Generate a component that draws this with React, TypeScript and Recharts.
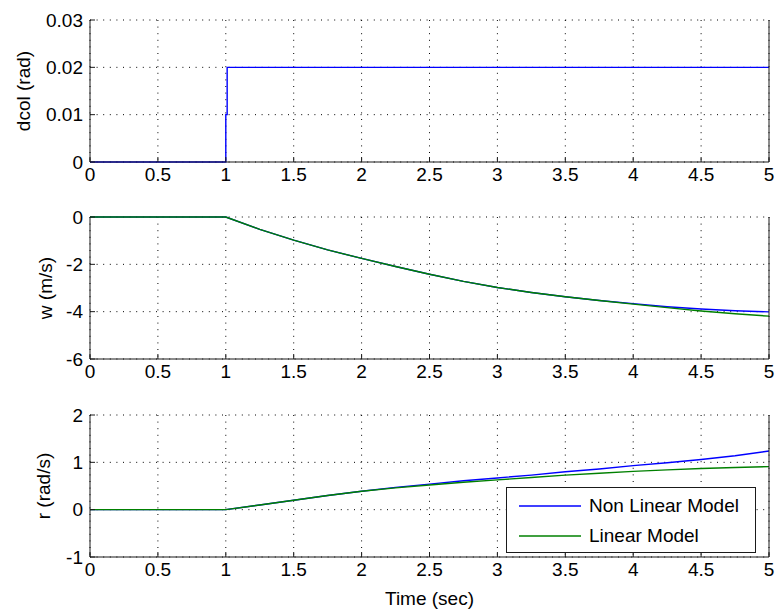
import React from "react";
import {
    LineChart,
    Line,
    XAxis,
    YAxis,
    CartesianGrid,
    Legend,
} from "recharts";

// time base (sec)
const dcolTime = [0, 1, 1, 1.01, 1.01, 5];
const dcolValues = [0, 0, 0.01, 0.01, 0.02, 0.02];

const simTime = [0, 1, 1.25, 1.5, 1.75, 2, 2.25, 2.5, 2.75, 3, 3.25, 3.5, 3.75, 4, 4.25, 4.5, 4.75, 5];

const wNonLinear = [0, 0, -0.52, -0.98, -1.39, -1.75, -2.09, -2.42, -2.72, -2.98, -3.19, -3.37, -3.53, -3.66, -3.79, -3.89, -3.96, -4.01];
const wLinear = [0, 0, -0.52, -0.98, -1.39, -1.75, -2.09, -2.42, -2.72, -2.98, -3.19, -3.37, -3.53, -3.68, -3.83, -3.97, -4.09, -4.19];

const rNonLinear = [0, 0, 0.1, 0.2, 0.3, 0.39, 0.47, 0.54, 0.61, 0.67, 0.73, 0.8, 0.86, 0.93, 0.99, 1.06, 1.14, 1.24];
const rLinear = [0, 0, 0.1, 0.2, 0.3, 0.39, 0.46, 0.52, 0.58, 0.63, 0.68, 0.73, 0.77, 0.81, 0.84, 0.87, 0.89, 0.91];

const timeTicks = [0, 0.5, 1, 1.5, 2, 2.5, 3, 3.5, 4, 4.5, 5];
const dcolTicks = [0, 0.01, 0.02, 0.03];
const wTicks = [-6, -4, -2, 0];
const rTicks = [-1, 0, 1, 2];

const seriesNames = ["Non Linear Model", "Linear Model"];

const FONT = '"Liberation Sans", Arial, sans-serif';
const FS = 19;
const AXIS = "#1a1a1a";
const BLUE = "#0000ff";
const GREEN = "#008000";
const W = 777;

const dcolData = dcolTime.map((t, i) => ({ t, dcol: dcolValues[i] }));
const wData = simTime.map((t, i) => ({ t, nl: wNonLinear[i], lin: wLinear[i] }));
const rData = simTime.map((t, i) => ({ t, nl: rNonLinear[i], lin: rLinear[i] }));

// ticks are drawn inside the box like matlab
const BottomTick = ({ x, y, payload }: any) => (
    <g>
        <line x1={x} y1={y} x2={x} y2={y - 5} stroke={AXIS} />
        <text x={x} y={y + 6} dy="0.71em" textAnchor="middle" fill="#000" fontSize={FS} fontFamily={FONT}>
            {payload.value}
        </text>
    </g>
);
const TopTick = ({ x, y }: any) => <line x1={x} y1={y} x2={x} y2={y + 5} stroke={AXIS} />;
const LeftTick = ({ x, y, payload }: any) => (
    <g>
        <line x1={x} y1={y} x2={x + 5} y2={y} stroke={AXIS} />
        <text x={x - 7} y={y} dy="0.355em" textAnchor="end" fill="#000" fontSize={FS} fontFamily={FONT}>
            {payload.value}
        </text>
    </g>
);
const RightTick = ({ x, y }: any) => <line x1={x} y1={y} x2={x - 5} y2={y} stroke={AXIS} />;

const YLabel = ({ viewBox, text, cx }: any) => {
    const x = viewBox.x + cx;
    const y = viewBox.y + viewBox.height / 2;
    return (
        <text x={x} y={y} transform={`rotate(-90, ${x}, ${y})`} textAnchor="middle" dominantBaseline="central" fill="#000" fontSize={FS} fontFamily={FONT}>
            {text}
        </text>
    );
};
const XLabel = ({ viewBox }: any) => (
    <text x={viewBox.x + viewBox.width / 2} y={viewBox.y + 41} textAnchor="middle" dominantBaseline="central" fill="#000" fontSize={FS} fontFamily={FONT}>
        Time (sec)
    </text>
);

const LegendBox = ({ payload }: any) => {
    // keep plot order, recharts sorts by name
    const items = seriesNames
        .map((n) => (payload || []).find((e: any) => e.value === n))
        .filter(Boolean);
    return (
        <div style={{ width: 250, height: 66, boxSizing: "border-box", border: `1px solid ${AXIS}`, background: "#fff", paddingTop: 3 }}>
            {items.map((e: any) => (
                <div key={e.value} style={{ display: "flex", alignItems: "center", height: 30 }}>
                    <svg width={75} height={4} style={{ display: "block" }}>
                        <line x1={12} y1={2} x2={74} y2={2} stroke={e.color} strokeWidth={1.4} />
                    </svg>
                    <span style={{ fontFamily: FONT, fontSize: FS, color: "#000", marginLeft: 7, lineHeight: "30px" }}>{e.value}</span>
                </div>
            ))}
        </div>
    );
};

function axes(yDomain: number[], yTicks: number[], label: string, labelX: number, bottomHeight: number, xLabel: boolean) {
    return [
        <CartesianGrid key="g" stroke="#000" strokeDasharray="1 5.6" />,
        <XAxis
            key="xb"
            dataKey="t"
            type="number"
            domain={[0, 5]}
            ticks={timeTicks}
            height={bottomHeight}
            tickSize={0}
            tickMargin={0}
            tickLine={false}
            axisLine={{ stroke: AXIS }}
            tick={<BottomTick />}
            interval={0}
            allowDuplicatedCategory={true}
            label={xLabel ? <XLabel /> : undefined}
        />,
        <XAxis
            key="xt"
            xAxisId="top"
            orientation="top"
            dataKey="t"
            type="number"
            domain={[0, 5]}
            ticks={timeTicks}
            height={0}
            tickSize={0}
            tickMargin={0}
            tickLine={false}
            axisLine={{ stroke: AXIS }}
            tick={<TopTick />}
            interval={0}
        />,
        <YAxis
            key="yl"
            type="number"
            domain={yDomain}
            ticks={yTicks}
            width={90}
            tickSize={0}
            tickMargin={0}
            tickLine={false}
            axisLine={{ stroke: AXIS }}
            tick={<LeftTick />}
            interval={0}
            label={<YLabel text={label} cx={labelX} />}
        />,
        <YAxis
            key="yr"
            yAxisId="right"
            orientation="right"
            type="number"
            domain={yDomain}
            ticks={yTicks}
            width={8}
            tickSize={0}
            tickMargin={0}
            tickLine={false}
            axisLine={{ stroke: AXIS }}
            tick={<RightTick />}
            interval={0}
        />,
    ];
}

export default function App() {
    const margin = { top: 20, right: 0, left: 0, bottom: 0 };
    return (
        <div style={{ position: "absolute", left: 0, top: 0, width: W, height: 612, background: "#fff" }}>
            <div style={{ position: "absolute", left: 0, top: 0 }}>
                <LineChart width={W} height={200} data={dcolData} margin={margin}>
                    {axes([0, 0.03], dcolTicks, "dcol (rad)", 23, 38, false)}
                    <Line dataKey="dcol" stroke={BLUE} strokeWidth={1.4} dot={false} type="linear" isAnimationActive={false} />
                </LineChart>
            </div>
            <div style={{ position: "absolute", left: 0, top: 197 }}>
                <LineChart width={W} height={200} data={wData} margin={margin}>
                    {axes([-6, 0], wTicks, "w (m/s)", 45, 38, false)}
                    <Line dataKey="nl" name={seriesNames[0]} stroke={BLUE} strokeWidth={1.4} dot={false} type="linear" isAnimationActive={false} />
                    <Line dataKey="lin" name={seriesNames[1]} stroke={GREEN} strokeWidth={1.4} dot={false} type="linear" isAnimationActive={false} />
                </LineChart>
            </div>
            <div style={{ position: "absolute", left: 0, top: 395 }}>
                <LineChart width={W} height={217} data={rData} margin={margin}>
                    {axes([-1, 2], rTicks, "r (rad/s)", 43, 55, true)}
                    <Line dataKey="nl" name={seriesNames[0]} stroke={BLUE} strokeWidth={1.4} dot={false} type="linear" isAnimationActive={false} />
                    <Line dataKey="lin" name={seriesNames[1]} stroke={GREEN} strokeWidth={1.4} dot={false} type="linear" isAnimationActive={false} />
                    <Legend
                        layout="vertical"
                        align="center"
                        verticalAlign="middle"
                        content={<LegendBox />}
                        wrapperStyle={{ left: 506, top: 92, width: 250, height: 66 }}
                    />
                </LineChart>
            </div>
        </div>
    );
}
